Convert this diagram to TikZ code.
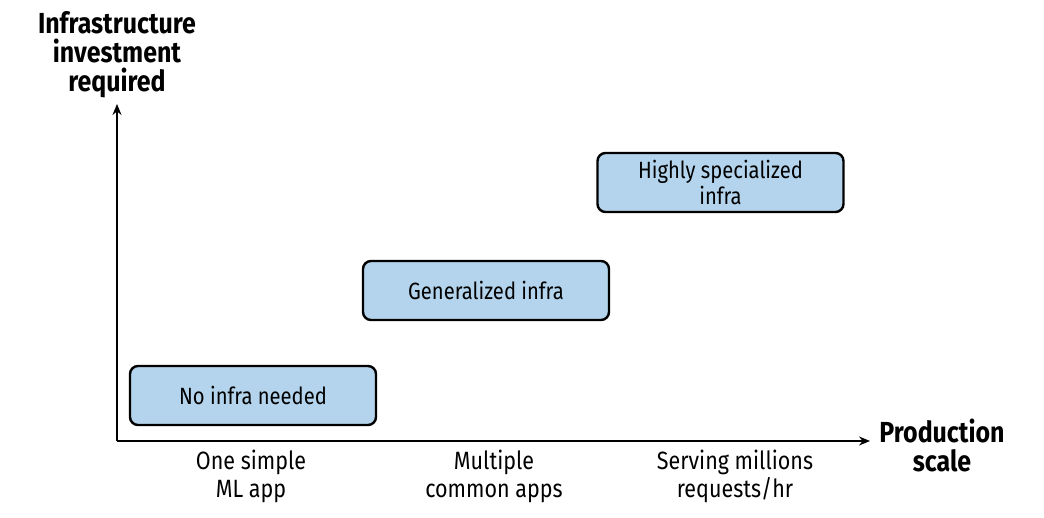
\documentclass[tikz,border=0pt]{standalone}
\usepackage{fontspec}
\setmainfont{Fira Sans}[FakeStretch=0.86]
\usetikzlibrary{arrows.meta}
\definecolor{boxblue}{HTML}{B3D4EC}
\begin{document}
\begin{tikzpicture}[x=1pt,y=-1pt,
  infbox/.style={draw=black,line width=2.4pt,fill=boxblue,rounded corners=8pt,
    minimum width=246pt,minimum height=59pt,align=center,font=\fontsize{23.5}{26}\selectfont,inner sep=0pt},
  axislabel/.style={align=center,font=\fontsize{29}{29}\selectfont\bfseries},
  ticklabel/.style={align=center,font=\fontsize{25}{28}\selectfont},
  axis/.style={line width=1.6pt,-{Stealth[length=11pt,width=9pt]}}]
\useasboundingbox (0,0) rectangle (1044,518);
\coordinate (O) at (117,441);
\coordinate (Ytip) at (117,104);
\coordinate (Xtip) at (870,441);
\draw[axis] (O) -- (Ytip);
\draw[axis] (O) -- (Xtip);
\node[axislabel] (ylab) at (117,55) {Infrastructure\\investment\\required};
\node[axislabel] (xlab) at (942,445) {Production\\scale};
\node[infbox] (b1) at (253,395.5) {No infra needed};
\node[infbox] (b2) at (486,290.5) {Generalized infra};
\node[infbox] (b3) at (720.5,182.5) {Highly specialized\\infra};
\node[ticklabel] (t1) at (251,476) {One simple\\ML app};
\node[ticklabel] (t2) at (494,476) {Multiple\\common apps};
\node[ticklabel] (t3) at (735,476) {Serving millions\\requests/hr};
\end{tikzpicture}
\end{document}
